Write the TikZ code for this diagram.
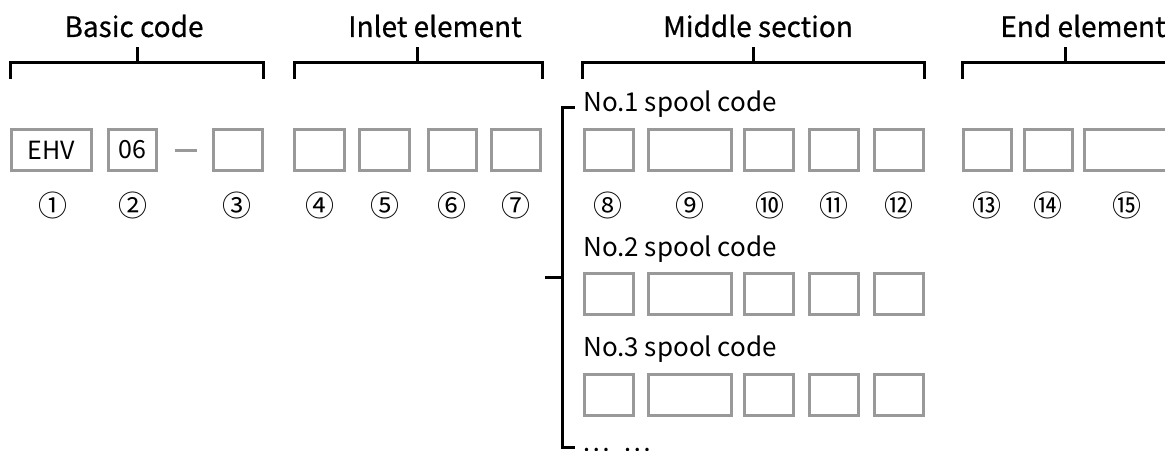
\documentclass[tikz,border=0pt]{standalone}
\usepackage{fontspec}
\setmainfont{Noto Sans CJK SC}
\newfontfamily\titlefont{Noto Sans CJK SC}[FakeBold=0.6]
\begin{document}
\begin{tikzpicture}[x=1pt,y=-1pt,
  codebox/.style={draw=black!40,line width=3pt,inner sep=0pt,minimum height=41pt,font=\fontsize{25}{25}\selectfont},
  brk/.style={line width=3pt,black},
  ttl/.style={font=\titlefont\fontsize{28}{28}\selectfont,inner sep=0pt},
  spl/.style={font=\fontsize{26}{26}\selectfont,inner sep=0pt,anchor=west},
  num/.style={font=\fontsize{29}{29}\selectfont,inner sep=0pt}]
\useasboundingbox (0,0) rectangle (1165,450);
% titles
\node[ttl] (t1) at (134,26) {Basic code};
\node[ttl] (t2) at (435,26) {Inlet element};
\node[ttl] (t3) at (758,26) {Middle section};
\node[ttl] (t4) at (1083,26) {End element};
% brackets
\draw[brk] (10,79) -- (10,62) -- (263,62) -- (263,79) (137,62) -- (137,47);
\draw[brk] (294,79) -- (294,62) -- (542,62) -- (542,79) (417,62) -- (417,47);
\draw[brk] (582,79) -- (582,62) -- (924,62) -- (924,79) (753,62) -- (753,47);
\draw[brk] (962,79) -- (962,62) -- (1180,62) (1065,62) -- (1065,47);
% row 1 boxes: outer x ranges
\foreach \n/\a/\b in {3/212/264,4/293/346,5/358/411,6/427/478,7/490/542,
  8/583/635,9/647/733,10/743/795,11/808/860,12/873/925,13/962/1013,14/1023/1074,15/1083/1170}{
  \node[codebox,minimum width=\b-\a-3] (b\n) at ({(\a+\b)/2},150) {};
}
\node[codebox,minimum width=80] (b1) at (51.5,150) {EHV};
\node[codebox,minimum width=48] (b2) at (132.5,150) {06};
\coordinate (d1) at (175,150);
\coordinate (d2) at (197,150);
\draw[draw=black!40,line width=3pt] (d1) -- (d2);
% rows 2 and 3
\foreach \r/\y in {2/294,3/395}{
  \foreach \n/\a/\b in {8/583/635,9/647/733,10/743/795,11/808/860,12/873/925}{
    \node[codebox,minimum width=\b-\a-3] (r\r b\n) at ({(\a+\b)/2},\y) {};
  }
}
% circled numbers
\foreach \t/\x in {①/53,②/133,③/237,④/320,⑤/385,⑥/452,⑦/516,⑧/608,⑨/690,⑩/770,⑪/834,⑫/899,⑬/987,⑭/1048,⑮/1127}{
  \node[num] (n\x) at (\x,205) {\t};
}
% spool labels
\node[spl] (s1) at (583,104) {No.1 spool code};
\node[spl] (s2) at (583,249) {No.2 spool code};
\node[spl] (s3) at (583,349) {No.3 spool code};
\node[spl,anchor=base west] (s4) at (582,451) {…\hspace{14pt}…};
% spool bracket
\draw[brk] (575,107) -- (562,107) -- (562,447) -- (575,447) (545,277) -- (562,277);
\end{tikzpicture}
\end{document}
